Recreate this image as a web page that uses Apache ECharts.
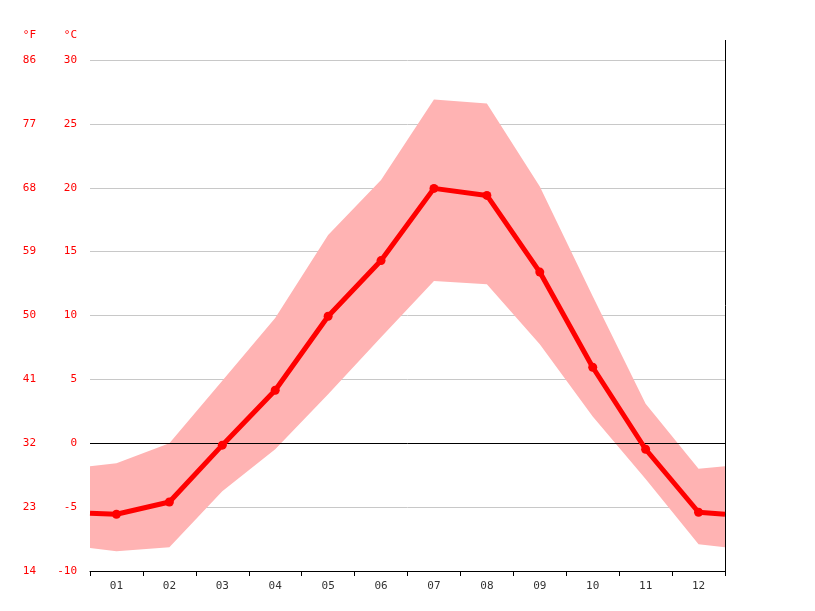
<!DOCTYPE html>
<html><head><meta charset="utf-8">
<script src="https://cdn.jsdelivr.net/npm/echarts@6/dist/echarts.min.js"></script>
<style>html,body{margin:0;padding:0;background:#fff}#c{width:815px;height:611px}</style>
</head><body><div id="c"></div>
<script>
const months = ['01','02','03','04','05','06','07','08','09','10','11','12'];
const meanTemp = [-5.56,-4.6,-0.15,4.15,9.94,14.3,19.95,19.4,13.4,5.95,-0.47,-5.4];
const maxTemp = [-1.56,0,4.9,9.8,16.3,20.6,26.9,26.6,20.1,11.5,3.1,-2.0];
const minTemp = [-8.45,-8.14,-3.75,-0.47,3.83,8.3,12.7,12.45,7.75,2.1,-2.8,-7.9];
const edgeMean = [-5.48,-5.56];
const edgeMax = [-1.8,-1.8];
const edgeMin = [-8.2,-8.14];
const cTicks = [-10,30,5];
const fTicks = [14,86,9];

function ext(arr, edge){
  const out=[[0.5,edge[0]]];
  arr.forEach((v,i)=>out.push([i+1,v]));
  out.push([12.5,edge[1]]);
  return out;
}
const lowData = ext(minTemp, edgeMin);
const hiData = ext(maxTemp, edgeMax);
const bandRows = [0];
const meanData = ext(meanTemp, edgeMean).map((p,i,a)=>({value:p, symbol:(i===0||i===a.length-1)?'none':'circle'}));

const font = 'DejaVu Sans Mono';
const chart = echarts.init(document.getElementById('c'));
chart.setOption({
  animation:false,
  grid:{left:90,right:90,top:60,bottom:40},
  xAxis:[
    {type:'category',data:months,boundaryGap:true,
     axisLine:{onZero:false,lineStyle:{color:'#000'}},axisTick:{show:true,lineStyle:{color:'#000'},length:5},
     axisLabel:{color:'#333',fontFamily:font,fontSize:11,margin:10},splitLine:{show:false}},
    {type:'value',min:0.5,max:12.5,show:false}
  ],
  yAxis:[
    {type:'value',min:cTicks[0],max:cTicks[1],interval:cTicks[2],
     axisLine:{show:false},axisTick:{show:false},
     axisLabel:{color:'#ff0000',fontFamily:font,fontSize:11,margin:13},
     splitLine:{lineStyle:{color:'#c8c8c8',width:1}}},
    {type:'value',min:fTicks[0],max:fTicks[1],interval:fTicks[2],position:'left',offset:41,
     axisLine:{show:false},axisTick:{show:false},
     axisLabel:{color:'#ff0000',fontFamily:font,fontSize:11,margin:13},splitLine:{show:false}}
  ],
  graphic:[
    {type:'text',x:77,y:30,style:{text:'°C',fill:'#ff0000',font:'11px '+font,textAlign:'right'}},
    {type:'text',x:36,y:30,style:{text:'°F',fill:'#ff0000',font:'11px '+font,textAlign:'right'}},
    {type:'line',shape:{x1:725.5,y1:40,x2:725.5,y2:571},style:{stroke:'#000',lineWidth:1}}
  ],
  series:[
    {type:'custom',xAxisIndex:1,yAxisIndex:0,data:bandRows,z:1,silent:true,
     renderItem:function(params,api){
       const pts = hiData.map(p=>api.coord(p)).concat(lowData.slice().reverse().map(p=>api.coord(p)));
       return {type:'polygon',shape:{points:pts},style:{fill:'#ffb3b3'}};
     }},
    {type:'line',xAxisIndex:1,yAxisIndex:0,data:meanData,symbol:'circle',symbolSize:9,
     lineStyle:{color:'#ff0000',width:5},itemStyle:{color:'#ff0000'},z:5,
     markLine:{silent:true,symbol:'none',label:{show:false},lineStyle:{color:'#000',width:1,type:'solid'},data:[{yAxis:0}]}}
  ]
});
</script></body></html>
